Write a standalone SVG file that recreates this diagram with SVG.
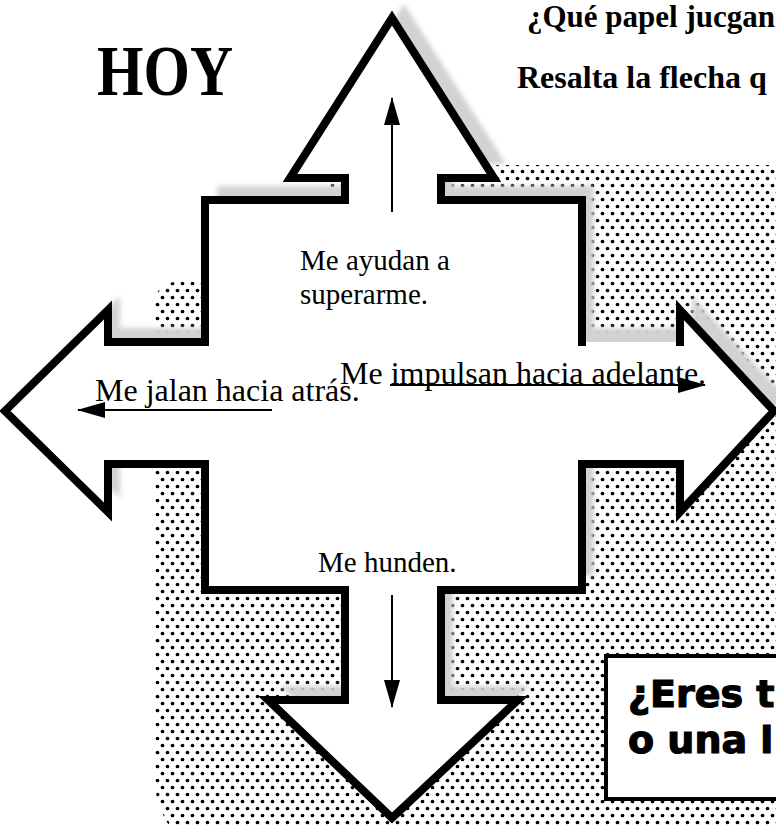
<svg xmlns="http://www.w3.org/2000/svg" width="776" height="825" viewBox="0 0 776 825">
  <defs>
    <pattern id="halftone" width="10" height="14" patternUnits="userSpaceOnUse">
      <rect width="10" height="14" fill="#ffffff"/>
      <circle cx="2.5" cy="3.5" r="1.85" fill="#000"/>
      <circle cx="7.5" cy="10.5" r="1.85" fill="#000"/>
    </pattern>
    <filter id="soft" x="-10%" y="-10%" width="120%" height="120%">
      <feGaussianBlur stdDeviation="2.5"/>
    </filter>
    <marker id="tri" viewBox="0 0 28 16" refX="27" refY="8" markerWidth="28" markerHeight="16" markerUnits="userSpaceOnUse" orient="auto">
      <path d="M0,0 L28,8 L0,16 Z" fill="#000"/>
    </marker>
  </defs>
  <style>
    .body { font-family: "Liberation Serif", "Times New Roman", serif; fill: #000; }
    .v { font-size: 29px; }
    .h { font-size: 32px; }
    .head { font-family: "Liberation Serif", "Times New Roman", serif; font-weight: bold; fill: #000; }
    .heavy { font-family: "DejaVu Sans", "Liberation Sans", sans-serif; font-weight: bold; font-size: 38px; fill: #000; stroke: #000; stroke-width: 1.2; }
    .outline { fill: none; stroke: #000; stroke-width: 8; stroke-linejoin: miter; stroke-linecap: square; }
    .conn { fill: none; stroke: #000; stroke-width: 2; }
  </style>

  <rect width="776" height="825" fill="#ffffff"/>

  <g id="background">
    <path d="M 155,302 A 20 20 0 0 1 175,282 L 215,282 L 215,196 L 330,196 L 330,165 L 800,165 L 800,860 L 235,860 A 80 80 0 0 1 155,780 Z" fill="url(#halftone)"/>
  </g>

  <g id="shadow" filter="url(#soft)">
    <polygon transform="translate(12,-14)" fill="#d2d2d2" points="392,18 494,178 441,178 441,200 582,200 582,342 680,342 680,310 774,411 680,512 680,464 582,464 582,590 441,590 441,700 518,700 392,818 268,700 345,700 345,590 205,590 205,464 108,464 108,512 5,411 108,310 108,342 205,342 205,200 345,200 345,178 290,178"/>
  </g>

  <g id="cross-arrow">
    <polygon fill="#ffffff" points="392,18 494,178 441,178 441,200 582,200 582,342 680,342 680,310 774,411 680,512 680,464 582,464 582,590 441,590 441,700 518,700 392,818 268,700 345,700 345,590 205,590 205,464 108,464 108,512 5,411 108,310 108,342 205,342 205,200 345,200 345,178 290,178"/>
    <path class="outline" d="M 680,342 L 680,310 L 774,411 L 680,512 L 680,464 L 582,464 L 582,590 L 441,590 L 441,700 L 518,700 L 392,818 L 268,700 L 345,700 L 345,590 L 205,590 L 205,464 L 108,464 L 108,512 L 5,411 L 108,310 L 108,342 L 205,342 L 205,200 L 345,200 L 345,178 L 290,178 L 392,18 L 494,178 L 441,178 L 441,200 L 582,200 L 582,342"/>
  </g>

  <g id="title">
    <text class="head" x="97" y="95" font-size="72" textLength="136" lengthAdjust="spacingAndGlyphs">HOY</text>
    <text class="head" x="527" y="27" font-size="31">¿Qué papel jucgan</text>
    <text class="head" x="517" y="88" font-size="32">Resalta la flecha q</text>
  </g>

  <g id="label-up">
    <text class="body v" x="300" y="270">Me ayudan a</text>
    <text class="body v" x="300" y="304">superarme.</text>
  </g>
  <g id="label-right">
    <text class="body h" x="340" y="384">Me impulsan hacia adelante.</text>
  </g>
  <g id="label-left">
    <text class="body h" x="95" y="401">Me jalan hacia atrás.</text>
  </g>
  <g id="label-down">
    <text class="body v" x="318" y="572">Me hunden.</text>
  </g>

  <g id="connectors">
    <line class="conn" x1="392" y1="212" x2="392" y2="98" marker-end="url(#tri)"/>
    <line class="conn" x1="392" y1="595" x2="392" y2="707" marker-end="url(#tri)"/>
    <line class="conn" x1="390" y1="385" x2="705" y2="385" marker-end="url(#tri)"/>
    <line class="conn" x1="272" y1="410" x2="78" y2="410" marker-end="url(#tri)"/>
  </g>

  <g id="question-box">
    <rect x="606" y="656" width="200" height="143" fill="#ffffff" stroke="#000" stroke-width="4"/>
    <text class="heavy" x="628" y="707">¿Eres t</text>
    <text class="heavy" x="628" y="753">o una l</text>
  </g>
</svg>
